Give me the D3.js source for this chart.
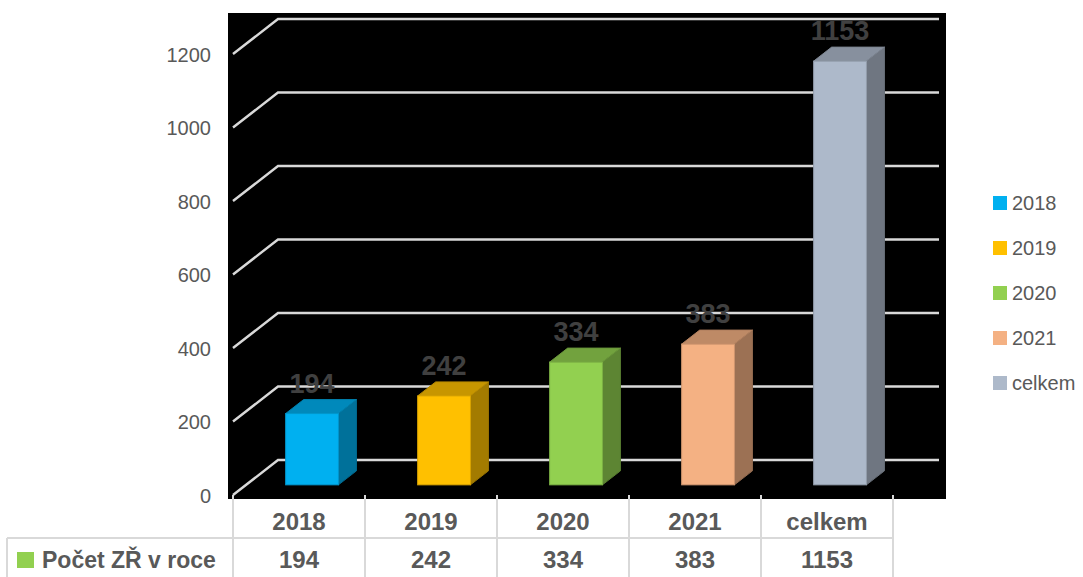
<!DOCTYPE html>
<html>
<head>
<meta charset="utf-8">
<script src="https://cdn.jsdelivr.net/npm/d3@7"></script>
<style>
html,body{margin:0;padding:0;background:#fff;}
svg{display:block;font-family:"Liberation Sans",Arial,sans-serif;}
</style>
</head>
<body>
<svg id="chart" width="1083" height="577"></svg>
<script>
const categories = ["2018", "2019", "2020", "2021", "celkem"];
const values = [194, 242, 334, 383, 1153];
const colors = ["#00B0F0", "#FFC000", "#92D050", "#F4B183", "#ADB9CA"];
const tickValues = [0, 200, 400, 600, 800, 1000, 1200];
const seriesName = "Počet ZŘ v roce";
const seriesColor = "#92D050";

const svg = d3.select("#chart");
const W = 1083, H = 577;

// geometry
const plot = {x0: 228, y0: 13, x1: 946, y1: 499};
const depth = {dx: 45, dy: -35};
const x = d3.scaleBand().domain(categories).range([233, 893]).paddingInner(0).paddingOuter(0);
const y = d3.scaleLinear().domain([0, 1200]).range([495, 54]);
const gridRight = 939;

// black background
svg.append("rect").attr("x", plot.x0).attr("y", plot.y0)
  .attr("width", plot.x1 - plot.x0).attr("height", plot.y1 - plot.y0).attr("fill", "#000");

// gridlines (side wall diagonal + back wall horizontal)
const grid = svg.append("g").attr("fill", "none").attr("stroke", "#d9d9d9").attr("stroke-width", 2.4);
tickValues.forEach(v => {
  const yf = y(v);
  grid.append("path").attr("d", `M${233},${yf} L${233 + depth.dx},${yf + depth.dy} L${gridRight},${yf + depth.dy}`);
});

// y axis labels
const yAxis = d3.axisLeft(y).tickValues(tickValues).tickFormat(d3.format("d")).tickSize(0).tickPadding(6);
const ax = svg.append("g").attr("transform", "translate(217,0)").call(yAxis);
ax.select(".domain").remove();
ax.selectAll("text").attr("fill", "#595959").attr("font-size", 20)
  .attr("font-family", '"Liberation Sans",Arial,sans-serif').attr("dy", "0.36em");

// 3D bars
function shade(c, k) {
  const col = d3.rgb(c);
  return d3.rgb(col.r * k, col.g * k, col.b * k).formatHex();
}
const f0 = 0.29, f1 = 0.69;
const bars = svg.append("g");
categories.forEach((c, i) => {
  const bw = x.bandwidth() * 0.4;
  const cx = x(c) + x.bandwidth() / 2;
  const ox = depth.dx * f0, oy = depth.dy * f0;
  const ddx = depth.dx * (f1 - f0), ddy = depth.dy * (f1 - f0);
  const xl = cx - bw / 2 + ox, xr = cx + bw / 2 + ox;
  const yb = y(0) + oy, yt = y(values[i]) + oy;
  const col = colors[i];
  // side face
  bars.append("path")
    .attr("d", `M${xr},${yb} L${xr + ddx},${yb + ddy} L${xr + ddx},${yt + ddy} L${xr},${yt} Z`)
    .attr("fill", shade(col, 0.64)).attr("stroke", shade(col, 0.6)).attr("stroke-width", 1);
  // top face
  bars.append("path")
    .attr("d", `M${xl},${yt} L${xl + ddx},${yt + ddy} L${xr + ddx},${yt + ddy} L${xr},${yt} Z`)
    .attr("fill", shade(col, 0.78)).attr("stroke", shade(col, 0.72)).attr("stroke-width", 1);
  // front face
  bars.append("rect").attr("x", xl).attr("y", yt).attr("width", bw).attr("height", yb - yt)
    .attr("fill", col).attr("stroke", shade(col, 0.85)).attr("stroke-width", 1);
  // value label
  bars.append("text").attr("x", (xl + xr) / 2).attr("y", yt - 21)
    .attr("text-anchor", "middle").attr("font-size", 27).attr("font-weight", "bold")
    .attr("fill", "#404040").text(values[i]);
});

// data table
const tbl = svg.append("g").attr("stroke", "#d9d9d9").attr("stroke-width", 2).attr("fill", "none");
const cols = categories.map(c => x(c)).concat([x.range()[1]]);
cols.forEach(cx => tbl.append("line").attr("x1", cx).attr("x2", cx).attr("y1", 495).attr("y2", H));
tbl.append("line").attr("x1", 7).attr("x2", x.range()[1]).attr("y1", 538).attr("y2", 538);
tbl.append("line").attr("x1", 7).attr("x2", 7).attr("y1", 538).attr("y2", H);

const tt = svg.append("g").attr("fill", "#595959").attr("font-weight", "bold").attr("font-size", 24)
  .attr("text-anchor", "middle");
categories.forEach((c, i) => {
  const cx = x(c) + x.bandwidth() / 2;
  tt.append("text").attr("x", cx).attr("y", 530).text(c);
  tt.append("text").attr("x", cx).attr("y", 568).text(values[i]);
});
svg.append("rect").attr("x", 17).attr("y", 552).attr("width", 17).attr("height", 16).attr("fill", seriesColor);
svg.append("text").attr("x", 42).attr("y", 568).attr("fill", "#595959").attr("font-weight", "bold")
  .attr("font-size", 23).text(seriesName);

// legend
const lg = svg.append("g");
categories.forEach((c, i) => {
  const cy = 203 + i * 45;
  lg.append("rect").attr("x", 993).attr("y", cy - 7).attr("width", 14).attr("height", 14).attr("fill", colors[i]);
  lg.append("text").attr("x", 1012).attr("y", cy).attr("dy", "0.36em").attr("font-size", 20)
    .attr("fill", "#595959").text(c);
});
</script>
</body>
</html>
